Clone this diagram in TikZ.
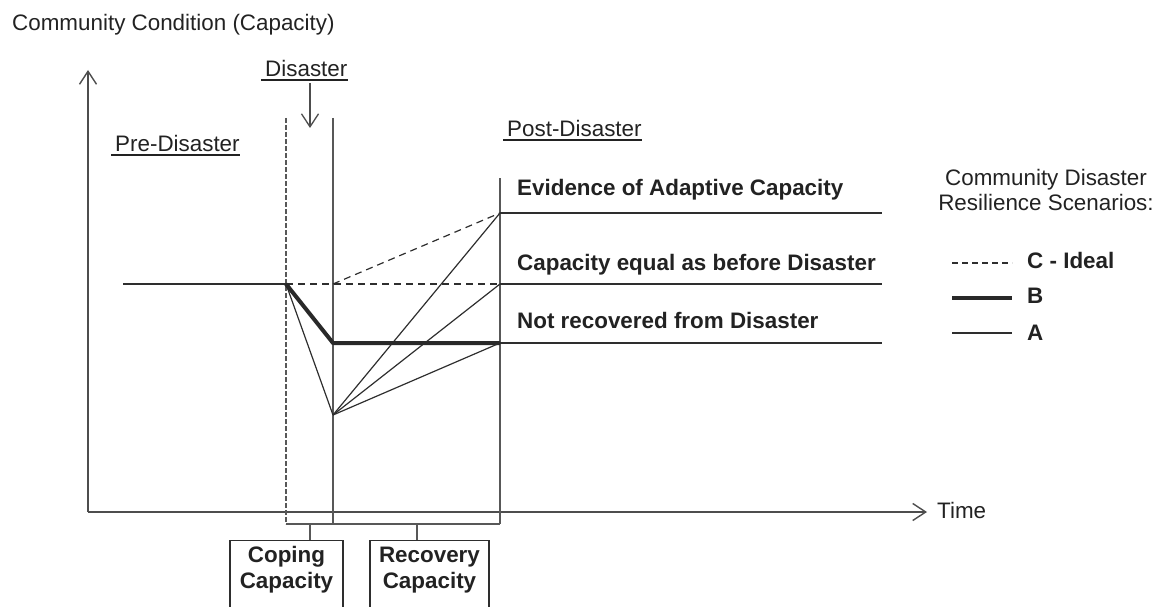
\documentclass[tikz,border=0pt]{standalone}
\usepackage{fontspec}
\setmainfont{Liberation Sans}
\usetikzlibrary{arrows.meta,calc}
\definecolor{ink}{HTML}{222222}
\definecolor{lineink}{HTML}{2E2E2E}
\newcommand{\capcell}[2]{\parbox[t][70pt][t]{#1}{\centering #2}}
\begin{document}
\begin{tikzpicture}[x=1pt,y=-1pt,
  txt/.style={inner sep=0pt,anchor=base west,text=ink,font=\fontsize{22.4}{26}\selectfont},
  btxt/.style={txt,font=\fontsize{22.4}{26}\selectfont\bfseries},
  thin line/.style={draw=lineink,line width=1.2pt},
  bold line/.style={draw=lineink!90!black,line width=4pt,line join=round},
  ideal/.style={draw=lineink,line width=1.2pt,dash pattern=on 7pt off 5pt},
  phase/.style={draw=lineink!80,line width=1.3pt},
  phasedash/.style={draw=lineink!80,line width=1.3pt,dash pattern=on 5pt off 2pt},
  axis/.style={draw=lineink!85,line width=1.6pt,-{Straight Barb[length=13pt,width=17pt,line width=1.4pt]}},
  uline/.style={draw=ink,line width=2pt},
  capbox/.style={draw=lineink,line width=1.3pt,anchor=north,
    text=ink,font=\fontsize{22.4}{26}\selectfont\bfseries,
    inner xsep=0pt,inner ysep=6pt}
]
\useasboundingbox (0,0) rectangle (1164,607);

% axes
\coordinate (origin) at (88,512);
\coordinate (ytop) at (88,70);
\coordinate (xend) at (927,512);
\draw[axis] (origin) -- (ytop);
\draw[axis] (origin) -- (xend);
\node[txt] (ylabel) at (12,31) {Community Condition (Capacity)};
\node[txt] (time) at (937,518) {Time};

% phase boundaries
\coordinate (dstartTop) at (286,118);
\coordinate (dendTop) at (333,118);
\coordinate (postTop) at (500,178);
\coordinate (dstartBot) at (286,524);
\coordinate (dendBot) at (333,524);
\coordinate (postBot) at (500,524);
\draw[phasedash] (dstartTop) -- (dstartBot);
\draw[phase] (dendTop) -- (dendBot);
\draw[phase] (postTop) -- (postBot);
\draw[phase] (dstartBot) -- (postBot);

% phase titles
\node[txt] (pre) at (115,151) {Pre-Disaster};
\node[txt] (dis) at (265,77) {Disaster};
\node[txt] (post) at (507,136) {Post-Disaster};
\draw[uline] ($(pre.base west)+(-4,4)$) -- ($(pre.base east)+(0,4)$);
\draw[uline] ($(dis.base west)+(-4,3)$) -- ($(dis.base east)+(0,3)$);
\draw[uline] ($(post.base west)+(-4,4)$) -- ($(post.base east)+(0,4)$);
\coordinate (hitA) at (310,83);
\coordinate (hitB) at (310,128);
\draw[draw=lineink!85,line width=1.4pt,-{Straight Barb[length=13pt,width=17pt,line width=1.3pt]}] (hitA) -- (hitB);

% capacity levels
\coordinate (P0) at (123,284);
\coordinate (D0) at (286,284);
\coordinate (D1) at (333,284);
\coordinate (B1) at (333,343);
\coordinate (L) at (333,415);
\coordinate (E1) at (500,213);
\coordinate (C1) at (500,284);
\coordinate (N1) at (500,343);
\coordinate (E2) at (882,213);
\coordinate (C2) at (882,284);
\coordinate (N2) at (882,343);

\draw[thin line] (P0) -- (D0);
\draw[thin line] (E1) -- (E2);
\draw[thin line] (C1) -- (C2);
\draw[thin line] (N1) -- (N2);

% scenario A
\draw[thin line,line join=round] (D0) -- (L);
\draw[thin line] (L) -- (E1);
\draw[thin line] (L) -- (C1);
\draw[thin line] (L) -- (N1);
% scenario C
\draw[ideal] (D0) -- (C1);
\draw[ideal] (D1) -- (E1);
% scenario B
\draw[bold line] (D0) -- (B1) -- (N1);

\node[btxt] (evid) at (517,195) {Evidence of Adaptive Capacity};
\node[btxt] (equal) at (517,270) {Capacity equal as before Disaster};
\node[btxt] (notrec) at (517,328) {Not recovered from Disaster};

% legend
\node[txt,anchor=base] (leg1) at (1046,185) {Community Disaster};
\node[txt,anchor=base] (leg2) at (1046,210) {Resilience Scenarios:};
\coordinate (lc0) at (952,263);
\coordinate (lc1) at (1012,263);
\coordinate (lb0) at (952,298);
\coordinate (lb1) at (1012,298);
\coordinate (la0) at (952,333);
\coordinate (la1) at (1012,333);
\draw[draw=lineink,line width=1.2pt,dash pattern=on 6pt off 4pt] (lc0) -- (lc1);
\draw[draw=lineink!90!black,line width=4.5pt] (lb0) -- (lb1);
\draw[thin line] (la0) -- (la1);
\node[btxt] (legC) at (1027,268) {C - Ideal};
\node[btxt] (legB) at (1027,303) {B};
\node[btxt] (legA) at (1027,340) {A};

% capacity boxes
\coordinate (copeStem) at (310,524);
\coordinate (recStem) at (417,524);
\node[capbox] (cope) at (286.5,540) {\capcell{113pt}{Coping\\Capacity}};
\node[capbox] (rec) at (429.5,540) {\capcell{119pt}{Recovery\\Capacity}};
\draw[phase] (copeStem) -- (copeStem |- cope.north);
\draw[phase] (recStem) -- (recStem |- rec.north);
\end{tikzpicture}
\end{document}
